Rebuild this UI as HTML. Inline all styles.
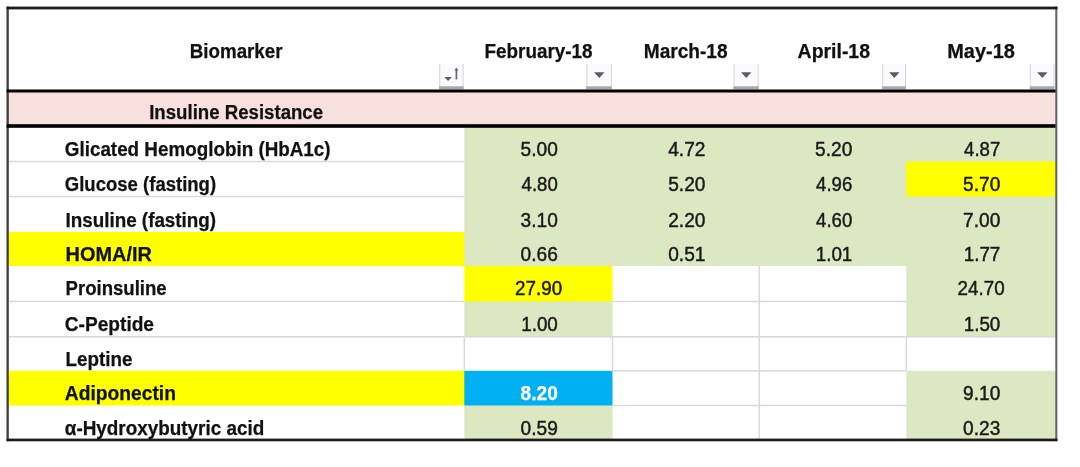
<!DOCTYPE html>
<html><head><meta charset="utf-8"><title>Biomarker table</title>
<style>html,body{margin:0;padding:0;background:#fff;}body{width:1080px;height:467px;overflow:hidden;}svg{display:block;font-family:"Liberation Sans",sans-serif;filter:blur(0.45px);}</style>
</head><body>
<svg width="1080" height="467" viewBox="0 0 1080 467">
<rect x="0" y="0" width="1080" height="467" fill="#fff"/>
<rect x="8" y="91" width="1048" height="34" fill="#f8e0df"/>
<rect x="8.8" y="127.8" width="456.5" height="34.7" fill="#fff"/>
<rect x="464.3" y="127.8" width="149.2" height="34.7" fill="#dce8c2"/>
<rect x="612.5" y="127.8" width="147.79999999999995" height="34.7" fill="#dce8c2"/>
<rect x="759.3" y="127.8" width="148.0" height="34.7" fill="#dce8c2"/>
<rect x="906.3" y="127.8" width="150.0" height="34.7" fill="#dce8c2"/>
<rect x="8.8" y="161.5" width="456.5" height="36.0" fill="#fff"/>
<rect x="464.3" y="161.5" width="149.2" height="36.0" fill="#dce8c2"/>
<rect x="612.5" y="161.5" width="147.79999999999995" height="36.0" fill="#dce8c2"/>
<rect x="759.3" y="161.5" width="148.0" height="36.0" fill="#dce8c2"/>
<rect x="906.3" y="161.5" width="150.0" height="36.0" fill="#ffff00"/>
<rect x="8.8" y="196.5" width="456.5" height="36.5" fill="#fff"/>
<rect x="464.3" y="196.5" width="149.2" height="36.5" fill="#dce8c2"/>
<rect x="612.5" y="196.5" width="147.79999999999995" height="36.5" fill="#dce8c2"/>
<rect x="759.3" y="196.5" width="148.0" height="36.5" fill="#dce8c2"/>
<rect x="906.3" y="196.5" width="150.0" height="36.5" fill="#dce8c2"/>
<rect x="8.8" y="232" width="456.5" height="35" fill="#ffff00"/>
<rect x="464.3" y="232" width="149.2" height="35" fill="#dce8c2"/>
<rect x="612.5" y="232" width="147.79999999999995" height="35" fill="#dce8c2"/>
<rect x="759.3" y="232" width="148.0" height="35" fill="#dce8c2"/>
<rect x="906.3" y="232" width="150.0" height="35" fill="#dce8c2"/>
<rect x="8.8" y="266" width="456.5" height="36.5" fill="#fff"/>
<rect x="464.3" y="266" width="149.2" height="36.5" fill="#ffff00"/>
<rect x="612.5" y="266" width="147.79999999999995" height="36.5" fill="#fff"/>
<rect x="759.3" y="266" width="148.0" height="36.5" fill="#fff"/>
<rect x="906.3" y="266" width="150.0" height="36.5" fill="#dce8c2"/>
<rect x="8.8" y="301.5" width="456.5" height="36.30000000000001" fill="#fff"/>
<rect x="464.3" y="301.5" width="149.2" height="36.30000000000001" fill="#dce8c2"/>
<rect x="612.5" y="301.5" width="147.79999999999995" height="36.30000000000001" fill="#fff"/>
<rect x="759.3" y="301.5" width="148.0" height="36.30000000000001" fill="#fff"/>
<rect x="906.3" y="301.5" width="150.0" height="36.30000000000001" fill="#dce8c2"/>
<rect x="8.8" y="336.8" width="456.5" height="35.0" fill="#fff"/>
<rect x="464.3" y="336.8" width="149.2" height="35.0" fill="#fff"/>
<rect x="612.5" y="336.8" width="147.79999999999995" height="35.0" fill="#fff"/>
<rect x="759.3" y="336.8" width="148.0" height="35.0" fill="#fff"/>
<rect x="906.3" y="336.8" width="150.0" height="35.0" fill="#fff"/>
<rect x="8.8" y="370.8" width="456.5" height="35.69999999999999" fill="#ffff00"/>
<rect x="464.3" y="370.8" width="149.2" height="35.69999999999999" fill="#00b0f0"/>
<rect x="612.5" y="370.8" width="147.79999999999995" height="35.69999999999999" fill="#fff"/>
<rect x="759.3" y="370.8" width="148.0" height="35.69999999999999" fill="#fff"/>
<rect x="906.3" y="370.8" width="150.0" height="35.69999999999999" fill="#dce8c2"/>
<rect x="8.8" y="405.5" width="456.5" height="34.10000000000002" fill="#fff"/>
<rect x="464.3" y="405.5" width="149.2" height="34.10000000000002" fill="#dce8c2"/>
<rect x="612.5" y="405.5" width="147.79999999999995" height="34.10000000000002" fill="#fff"/>
<rect x="759.3" y="405.5" width="148.0" height="34.10000000000002" fill="#fff"/>
<rect x="906.3" y="405.5" width="150.0" height="34.10000000000002" fill="#dce8c2"/>
<rect x="8.8" y="160.75" width="455.5" height="1.5" fill="#d9d9dc"/>
<rect x="8.8" y="195.75" width="455.5" height="1.5" fill="#d9d9dc"/>
<rect x="8.8" y="300.75" width="455.5" height="1.5" fill="#d9d9dc"/>
<rect x="8.8" y="336.05" width="897.5" height="1.5" fill="#d9d9dc"/>
<rect x="612.5" y="300.75" width="293.79999999999995" height="1.5" fill="#d9d9dc"/>
<rect x="612.5" y="370.05" width="293.79999999999995" height="1.5" fill="#d9d9dc"/>
<rect x="612.5" y="404.75" width="293.79999999999995" height="1.5" fill="#d9d9dc"/>
<rect x="906.3" y="336.05" width="149.0" height="1.5" fill="#d9d9dc"/>
<rect x="758.55" y="266" width="1.5" height="172.60000000000002" fill="#d9d9dc"/>
<rect x="611.75" y="336.8" width="1.5" height="34.0" fill="#d9d9dc"/>
<rect x="463.55" y="336.8" width="1.5" height="34.0" fill="#d9d9dc"/>
<rect x="905.55" y="336.8" width="1.5" height="34.0" fill="#d9d9dc"/>
<rect x="439.2" y="64" width="24.400000000000034" height="25.5" fill="#fbfbfe"/>
<rect x="439.2" y="64" width="1" height="25.5" fill="#d4d4da"/>
<rect x="462.6" y="64" width="1" height="25.5" fill="#d4d4da"/>
<rect x="439.2" y="86.3" width="24.400000000000034" height="3.2" fill="#a8a8aa"/>
<path d="M444.4 77 L451.9 77 L448.15 81 Z" fill="#5c5d62"/>
<path d="M456.4 67.6 L458.5 70.4 L457.25 70.4 L457.25 79.4 L455.55 79.4 L455.55 70.4 L454.3 70.4 Z" fill="#66676c"/>
<rect x="586.4" y="64" width="25.399999999999977" height="25.5" fill="#fbfbfe"/>
<rect x="586.4" y="64" width="1" height="25.5" fill="#d4d4da"/>
<rect x="610.8" y="64" width="1" height="25.5" fill="#d4d4da"/>
<rect x="586.4" y="86.3" width="25.399999999999977" height="3.2" fill="#a8a8aa"/>
<path d="M594.0999999999999 72.2 L604.5 72.2 L599.3 77.9 Z" fill="#5c5d62"/>
<rect x="733.5" y="64" width="25.100000000000023" height="25.5" fill="#fbfbfe"/>
<rect x="733.5" y="64" width="1" height="25.5" fill="#d4d4da"/>
<rect x="757.6" y="64" width="1" height="25.5" fill="#d4d4da"/>
<rect x="733.5" y="86.3" width="25.100000000000023" height="3.2" fill="#a8a8aa"/>
<path d="M741.05 72.2 L751.45 72.2 L746.25 77.9 Z" fill="#5c5d62"/>
<rect x="882.2" y="64" width="23.799999999999955" height="25.5" fill="#fbfbfe"/>
<rect x="882.2" y="64" width="1" height="25.5" fill="#d4d4da"/>
<rect x="905" y="64" width="1" height="25.5" fill="#d4d4da"/>
<rect x="882.2" y="86.3" width="23.799999999999955" height="3.2" fill="#a8a8aa"/>
<path d="M889.1 72.2 L899.5000000000001 72.2 L894.3000000000001 77.9 Z" fill="#5c5d62"/>
<rect x="1029.8" y="64" width="24.600000000000136" height="25.5" fill="#fbfbfe"/>
<rect x="1029.8" y="64" width="1" height="25.5" fill="#d4d4da"/>
<rect x="1053.4" y="64" width="1" height="25.5" fill="#d4d4da"/>
<rect x="1029.8" y="86.3" width="24.600000000000136" height="3.2" fill="#a8a8aa"/>
<path d="M1037.1 72.2 L1047.5 72.2 L1042.3 77.9 Z" fill="#5c5d62"/>
<rect x="6.5" y="6.6" width="2.3" height="434.59999999999997" fill="#3c3c3c"/>
<rect x="1055.3" y="6.6" width="2.0" height="434.59999999999997" fill="#626262"/>
<rect x="6.6" y="6.6" width="1050.9" height="2.8" fill="#1c1c1c"/>
<rect x="6.6" y="89.5" width="1048.9" height="3" fill="#000"/>
<rect x="6.6" y="124.2" width="1048.9" height="3.6" fill="#000"/>
<rect x="6.6" y="438.6" width="1050.9" height="2.7" fill="#1c1c1c"/>
<text x="189.80" y="57.9" font-size="20" font-weight="bold" fill="#111" stroke="#111" stroke-width="0.25" textLength="92.71" lengthAdjust="spacingAndGlyphs">Biomarker</text>
<text x="484.50" y="57.9" font-size="20" font-weight="bold" fill="#111" stroke="#111" stroke-width="0.25" textLength="108.01" lengthAdjust="spacingAndGlyphs">February-18</text>
<text x="643.75" y="57.9" font-size="20" font-weight="bold" fill="#111" stroke="#111" stroke-width="0.25" textLength="83.76" lengthAdjust="spacingAndGlyphs">March-18</text>
<text x="797.60" y="57.9" font-size="20" font-weight="bold" fill="#111" stroke="#111" stroke-width="0.25" textLength="72.41" lengthAdjust="spacingAndGlyphs">April-18</text>
<text x="947.20" y="57.9" font-size="20" font-weight="bold" fill="#111" stroke="#111" stroke-width="0.25" textLength="67.63" lengthAdjust="spacingAndGlyphs">May-18</text>
<text x="149.20" y="119.2" font-size="20" font-weight="bold" fill="#111" stroke="#111" stroke-width="0.25" textLength="173.91" lengthAdjust="spacingAndGlyphs">Insuline Resistance</text>
<text x="64.80" y="155.8" font-size="20" font-weight="bold" fill="#111" stroke="#111" stroke-width="0.25" textLength="265.80" lengthAdjust="spacingAndGlyphs">Glicated Hemoglobin (HbA1c)</text>
<text x="64.80" y="191.1" font-size="20" font-weight="bold" fill="#111" stroke="#111" stroke-width="0.25" textLength="151.31" lengthAdjust="spacingAndGlyphs">Glucose (fasting)</text>
<text x="65.50" y="226.9" font-size="20" font-weight="bold" fill="#111" stroke="#111" stroke-width="0.25" textLength="150.61" lengthAdjust="spacingAndGlyphs">Insuline (fasting)</text>
<text x="65.50" y="260.6" font-size="20" font-weight="bold" fill="#111" stroke="#111" stroke-width="0.25" textLength="86.42" lengthAdjust="spacingAndGlyphs">HOMA/IR</text>
<text x="65.50" y="295.3" font-size="20" font-weight="bold" fill="#111" stroke="#111" stroke-width="0.25" textLength="101.20" lengthAdjust="spacingAndGlyphs">Proinsuline</text>
<text x="64.80" y="330.7" font-size="20" font-weight="bold" fill="#111" stroke="#111" stroke-width="0.25" textLength="89.21" lengthAdjust="spacingAndGlyphs">C-Peptide</text>
<text x="65.50" y="365.5" font-size="20" font-weight="bold" fill="#111" stroke="#111" stroke-width="0.25" textLength="66.93" lengthAdjust="spacingAndGlyphs">Leptine</text>
<text x="64.80" y="399.8" font-size="20" font-weight="bold" fill="#111" stroke="#111" stroke-width="0.25" textLength="111.11" lengthAdjust="spacingAndGlyphs">Adiponectin</text>
<text x="64.80" y="434.9" font-size="20" font-weight="bold" fill="#111" stroke="#111" stroke-width="0.25" textLength="199.41" lengthAdjust="spacingAndGlyphs">α-Hydroxybutyric acid</text>
<text x="520.60" y="155.8" font-size="20" fill="#1a1a1a" stroke="#1a1a1a" stroke-width="0.45" textLength="37.24" lengthAdjust="spacingAndGlyphs">5.00</text>
<text x="668.20" y="155.8" font-size="20" fill="#1a1a1a" stroke="#1a1a1a" stroke-width="0.45" textLength="37.21" lengthAdjust="spacingAndGlyphs">4.72</text>
<text x="815.10" y="155.8" font-size="20" fill="#1a1a1a" stroke="#1a1a1a" stroke-width="0.45" textLength="37.21" lengthAdjust="spacingAndGlyphs">5.20</text>
<text x="964.10" y="155.8" font-size="20" fill="#1a1a1a" stroke="#1a1a1a" stroke-width="0.45" textLength="36.21" lengthAdjust="spacingAndGlyphs">4.87</text>
<text x="521.60" y="191.1" font-size="20" fill="#1a1a1a" stroke="#1a1a1a" stroke-width="0.45" textLength="36.21" lengthAdjust="spacingAndGlyphs">4.80</text>
<text x="668.20" y="191.1" font-size="20" fill="#1a1a1a" stroke="#1a1a1a" stroke-width="0.45" textLength="37.21" lengthAdjust="spacingAndGlyphs">5.20</text>
<text x="816.10" y="191.1" font-size="20" fill="#1a1a1a" stroke="#1a1a1a" stroke-width="0.45" textLength="36.21" lengthAdjust="spacingAndGlyphs">4.96</text>
<text x="963.10" y="191.1" font-size="20" fill="#1a1a1a" stroke="#1a1a1a" stroke-width="0.45" textLength="37.21" lengthAdjust="spacingAndGlyphs">5.70</text>
<text x="520.60" y="226.9" font-size="20" fill="#1a1a1a" stroke="#1a1a1a" stroke-width="0.45" textLength="37.24" lengthAdjust="spacingAndGlyphs">3.10</text>
<text x="668.20" y="226.9" font-size="20" fill="#1a1a1a" stroke="#1a1a1a" stroke-width="0.45" textLength="37.21" lengthAdjust="spacingAndGlyphs">2.20</text>
<text x="816.10" y="226.9" font-size="20" fill="#1a1a1a" stroke="#1a1a1a" stroke-width="0.45" textLength="36.21" lengthAdjust="spacingAndGlyphs">4.60</text>
<text x="963.10" y="226.9" font-size="20" fill="#1a1a1a" stroke="#1a1a1a" stroke-width="0.45" textLength="37.21" lengthAdjust="spacingAndGlyphs">7.00</text>
<text x="520.60" y="260.6" font-size="20" fill="#1a1a1a" stroke="#1a1a1a" stroke-width="0.45" textLength="37.24" lengthAdjust="spacingAndGlyphs">0.66</text>
<text x="668.20" y="260.6" font-size="20" fill="#1a1a1a" stroke="#1a1a1a" stroke-width="0.45" textLength="37.24" lengthAdjust="spacingAndGlyphs">0.51</text>
<text x="815.70" y="260.6" font-size="20" fill="#1a1a1a" stroke="#1a1a1a" stroke-width="0.45" textLength="36.65" lengthAdjust="spacingAndGlyphs">1.01</text>
<text x="963.70" y="260.6" font-size="20" fill="#1a1a1a" stroke="#1a1a1a" stroke-width="0.45" textLength="36.65" lengthAdjust="spacingAndGlyphs">1.77</text>
<text x="515.10" y="295.3" font-size="20" fill="#1a1a1a" stroke="#1a1a1a" stroke-width="0.45" textLength="47.02" lengthAdjust="spacingAndGlyphs">27.90</text>
<text x="957.60" y="295.3" font-size="20" fill="#1a1a1a" stroke="#1a1a1a" stroke-width="0.45" textLength="47.02" lengthAdjust="spacingAndGlyphs">24.70</text>
<text x="521.20" y="330.7" font-size="20" fill="#1a1a1a" stroke="#1a1a1a" stroke-width="0.45" textLength="36.65" lengthAdjust="spacingAndGlyphs">1.00</text>
<text x="963.70" y="330.7" font-size="20" fill="#1a1a1a" stroke="#1a1a1a" stroke-width="0.45" textLength="36.65" lengthAdjust="spacingAndGlyphs">1.50</text>
<text x="520.60" y="399.8" font-size="20" font-weight="bold" fill="#fff" stroke="#fff" stroke-width="0.25" textLength="37.24" lengthAdjust="spacingAndGlyphs">8.20</text>
<text x="963.10" y="399.8" font-size="20" fill="#1a1a1a" stroke="#1a1a1a" stroke-width="0.45" textLength="37.21" lengthAdjust="spacingAndGlyphs">9.10</text>
<text x="520.60" y="434.9" font-size="20" fill="#1a1a1a" stroke="#1a1a1a" stroke-width="0.45" textLength="37.24" lengthAdjust="spacingAndGlyphs">0.59</text>
<text x="963.10" y="434.9" font-size="20" fill="#1a1a1a" stroke="#1a1a1a" stroke-width="0.45" textLength="37.21" lengthAdjust="spacingAndGlyphs">0.23</text>
</svg>
</body></html>
